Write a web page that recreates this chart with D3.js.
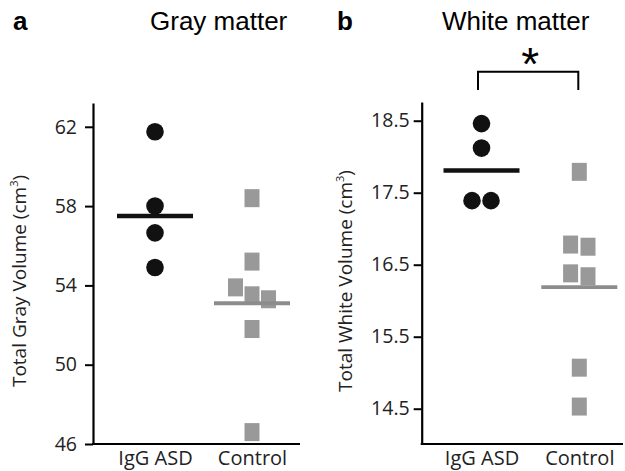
<!DOCTYPE html>
<html>
<head>
<meta charset="utf-8">
<script src="https://cdn.jsdelivr.net/npm/d3@7"></script>
<style>
  body { margin: 0; background: #fff; }
  svg { display: block; }
</style>
</head>
<body>
<svg id="viz"></svg>
<script>
/* Data */

const groups = ["IgG ASD", "Control"];

const grayAsd = [61.75, 58.0, 56.65, 54.9];
const grayAsdSlot = [0, 0, 0, 0];
const grayCtrl = [58.4, 55.2, 53.9, 53.5, 53.3, 51.8, 46.6];
const grayCtrlSlot = [0, 0, -1, 0, 1, 0, 0];
const grayMeans = [57.5, 53.1];
const grayTicks = [46, 50, 54, 58, 62];

const whiteAsd = [18.46, 18.12, 17.39, 17.39];
const whiteAsdSlot = [0, 0, -0.5, 0.5];
const whiteCtrl = [17.79, 16.78, 16.75, 16.38, 16.34, 15.07, 14.53];
const whiteCtrlSlot = [0, -0.5, 0.5, -0.5, 0.5, 0, 0];
const whiteMeans = [17.81, 16.19];
const whiteTicks = [14.5, 15.5, 16.5, 17.5, 18.5];

/* SVG */

const width = 625, height = 471;
const svg = d3.select("#viz").attr("width", width).attr("height", height);

const font = "'Open Sans', sans-serif";

function panel(opts) {
  const g = svg.append("g");

  let y = d3.scaleLinear().domain(opts.yDomain).range([444, opts.top]);
  let x = d3.scalePoint().domain(groups).range(opts.xRange);

  // y axis
  const gy = g.append("g")
      .attr("transform", `translate(${opts.axisX},0)`)
      .call(d3.axisLeft(y).tickValues(opts.ticks).tickSize(8).tickPadding(opts.pad).tickSizeOuter(0)
        .tickFormat(d3.format(opts.fmt)));
  gy.select(".domain").attr("stroke-width", 2.2);
  gy.selectAll(".tick line").attr("stroke-width", 2);
  gy.selectAll("text").attr("font-family", font).attr("font-size", 19.5).attr("fill", "#222");

  // x baseline + labels
  g.append("line")
      .attr("x1", opts.axisX - 1).attr("x2", opts.axisRight)
      .attr("y1", 444).attr("y2", 444)
      .attr("stroke", "#000").attr("stroke-width", 2.2);
  const gx = g.append("g")
      .attr("transform", "translate(0,444)")
      .call(d3.axisBottom(x).tickSize(0).tickPadding(7));
  gx.select(".domain").remove();
  gx.selectAll("text").attr("font-family", font).attr("font-size", 20).attr("fill", "#222");

  // y label
  const lab = g.append("text")
      .attr("transform", `translate(${opts.labelX},${opts.labelY}) rotate(-90)`)
      .attr("text-anchor", "middle")
      .attr("font-family", font).attr("font-size", 19).attr("fill", "#222")
      .text(opts.label);
  lab.append("tspan").attr("font-size", 11).attr("dy", -8).text("3");
  lab.append("tspan").attr("dy", 8).text(")");

  // panel letter and title
  g.append("text")
      .attr("x", opts.letterX).attr("y", 30)
      .attr("font-family", "'Liberation Sans', Arial, sans-serif")
      .attr("font-weight", "bold").attr("font-size", 26)
      .text(opts.letter);
  g.append("text")
      .attr("x", opts.titleX).attr("y", 30)
      .attr("font-family", "'Liberation Sans', Arial, sans-serif")
      .attr("font-size", 26)
      .text(opts.title);

  // control squares
  g.selectAll("rect.ctrl")
      .data(opts.ctrl)
      .join("rect")
      .attr("class", "ctrl")
      .attr("x", (d, i) => x("Control") + opts.ctrlSlot[i] * opts.ctrlStep - 7.5)
      .attr("y", d => y(d) - 9)
      .attr("width", 15).attr("height", 18)
      .attr("fill", "#999");

  // asd circles
  g.selectAll("circle.asd")
      .data(opts.asd)
      .join("circle")
      .attr("class", "asd")
      .attr("cx", (d, i) => x("IgG ASD") + opts.asdSlot[i] * opts.asdStep)
      .attr("cy", d => y(d))
      .attr("r", 8.8)
      .attr("fill", "#111");

  // mean lines
  g.selectAll("line.mean")
      .data(opts.means)
      .join("line")
      .attr("class", "mean")
      .attr("x1", (d, i) => x(groups[i]) - 38)
      .attr("x2", (d, i) => x(groups[i]) + 38)
      .attr("y1", d => y(d)).attr("y2", d => y(d))
      .attr("stroke", (d, i) => i === 0 ? "#111" : "#8c8c8c")
      .attr("stroke-width", (d, i) => i === 0 ? 4.5 : 3.8);

  return { x, y, g };
}

panel({
  yDomain: [46, 63.2], top: 103, ticks: grayTicks, fmt: "d", pad: 8,
  axisX: 93, axisRight: 300, xRange: [155, 252],
  labelX: 26, labelY: 281, label: "Total Gray Volume (cm",
  letter: "a", letterX: 13, title: "Gray matter", titleX: 150,
  asd: grayAsd, asdSlot: grayAsdSlot, asdStep: 17,
  ctrl: grayCtrl, ctrlSlot: grayCtrlSlot, ctrlStep: 16.5,
  means: grayMeans
});

const pb = panel({
  yDomain: [14.01, 18.76], top: 102, ticks: whiteTicks, fmt: ".1f", pad: 4,
  axisX: 421.7, axisRight: 623, xRange: [481.5, 579.3],
  labelX: 352, labelY: 281, label: "Total White Volume (cm",
  letter: "b", letterX: 337, title: "White matter", titleX: 442,
  asd: whiteAsd, asdSlot: whiteAsdSlot, asdStep: 19,
  ctrl: whiteCtrl, ctrlSlot: whiteCtrlSlot, ctrlStep: 17.4,
  means: whiteMeans
});

/* Significance bracket */

const bx1 = pb.x("IgG ASD") - 3.5, bx2 = pb.x("Control") - 1;
pb.g.append("path")
    .attr("d", `M${bx1},90V71.7H${bx2}V90`)
    .attr("fill", "none").attr("stroke", "#000").attr("stroke-width", 2);
pb.g.append("text")
    .attr("x", (bx1 + bx2) / 2 + 2).attr("y", 80)
    .attr("text-anchor", "middle")
    .attr("font-family", "'Liberation Sans', Arial, sans-serif")
    .attr("font-size", 46)
    .text("*");
</script>
</body>
</html>
